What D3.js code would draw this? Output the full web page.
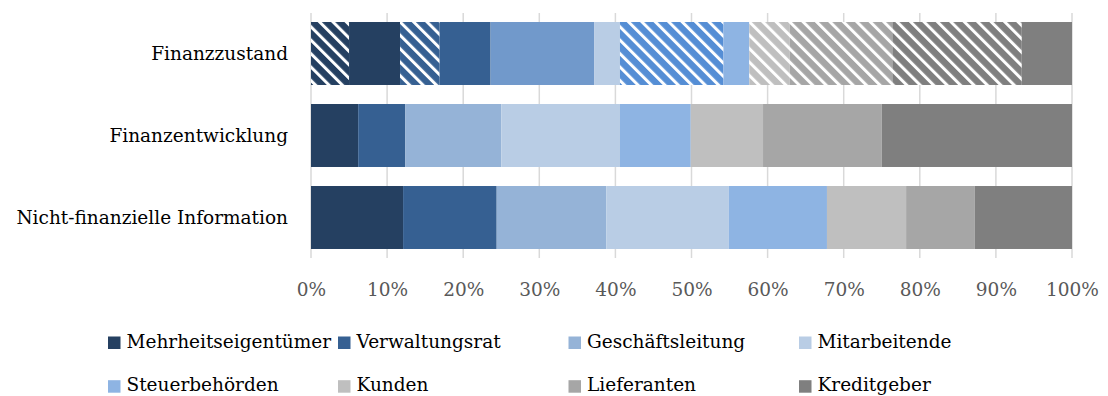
<!DOCTYPE html>
<html>
<head>
<meta charset="utf-8">
<script src="https://cdn.jsdelivr.net/npm/d3@7"></script>
<style>
  html, body { margin: 0; padding: 0; background: #fff; }
  svg { display: block; }
  text { font-family: 'Palatino Linotype', 'Book Antiqua', Palatino, 'DejaVu Serif', serif; }
</style>
</head>
<body>
<svg id="chart" width="1108" height="396"></svg>
<script>
// Kategorien (Zeilen) und Anspruchsgruppen (Reihen)
const categories = ["Finanzzustand", "Finanzentwicklung", "Nicht-finanzielle Information"];
const groups = ["Mehrheitseigentümer", "Verwaltungsrat", "Geschäftsleitung", "Mitarbeitende",
                "Steuerbehörden", "Kunden", "Lieferanten", "Kreditgeber"];

// Anteile in Prozent
const finanzzustandSchraffiert = [5.0, 5.2, 0, 0, 13.6, 5.3, 13.5, 17.0];
const finanzzustandVoll        = [6.7, 6.7, 13.6, 3.4, 3.4, 0, 0, 6.6];
const finanzentwicklung        = [6.2, 6.2, 12.6, 15.6, 9.3, 9.5, 15.6, 25.0];
const nichtFinanziell          = [12.1, 12.3, 14.4, 16.1, 12.9, 10.4, 9.0, 12.8];

const xTicks = [0, 10, 20, 30, 40, 50, 60, 70, 80, 90, 100];

// Farben
const colors      = ["#254061", "#366092", "#95b3d7", "#b9cde5", "#8eb4e3", "#bfbfbf", "#a6a6a6", "#7f7f7f"];
const hatchColors = ["#254061", "#366092", "#95b3d7", "#b9cde5", "#558ed5", "#bfbfbf", "#a6a6a6", "#7f7f7f"];
const zustandColors = ["#254061", "#366092", "#7199cb", "#b9cde5", "#8eb4e3", "#bfbfbf", "#a6a6a6", "#7f7f7f"];

const FONT = "'Palatino Linotype', 'Book Antiqua', Palatino, 'DejaVu Serif', serif";
const FS = 18.5;

const svg = d3.select("#chart");

const x = d3.scaleLinear().domain([0, 100]).range([311, 1072]);
const y = d3.scaleBand().domain(categories).range([12.5, 258.5])
  .paddingInner(0.232).paddingOuter(0.116);

// Schraffurmuster
const defs = svg.append("defs");
hatchColors.forEach((c, i) => {
  const p = defs.append("pattern")
    .attr("id", "hatch" + i)
    .attr("patternUnits", "userSpaceOnUse")
    .attr("width", 9.5).attr("height", 9.5)
    .attr("patternTransform", "rotate(-45)");
  p.append("rect").attr("width", 9.5).attr("height", 9.5).attr("fill", c);
  p.append("rect").attr("width", 3).attr("height", 9.5).attr("fill", "#fff");
});

// Gitterlinien
svg.append("g").selectAll("line").data(xTicks).join("line")
  .attr("x1", d => x(d)).attr("x2", d => x(d))
  .attr("y1", 13).attr("y2", 258)
  .attr("stroke", "#d9d9d9").attr("stroke-width", 1.5);

// Segmente aufbauen
function stackRow(cat, parts) {
  let acc = 0;
  return parts.filter(p => p.v > 0).map(p => {
    const s = { cat, x0: acc, x1: acc + p.v, fill: p.fill };
    acc += p.v;
    return s;
  });
}

const zustandParts = [];
groups.forEach((g, i) => {
  zustandParts.push({ v: finanzzustandSchraffiert[i], fill: "url(#hatch" + i + ")" });
  zustandParts.push({ v: finanzzustandVoll[i], fill: zustandColors[i] });
});

const segments = [].concat(
  stackRow(categories[0], zustandParts),
  stackRow(categories[1], finanzentwicklung.map((v, i) => ({ v, fill: colors[i] }))),
  stackRow(categories[2], nichtFinanziell.map((v, i) => ({ v, fill: colors[i] })))
);

svg.append("g").selectAll("rect").data(segments).join("rect")
  .attr("x", d => x(d.x0))
  .attr("width", d => x(d.x1) - x(d.x0))
  .attr("y", d => y(d.cat))
  .attr("height", y.bandwidth())
  .attr("fill", d => d.fill);

// Kategorienbeschriftung
svg.append("g").selectAll("text").data(categories).join("text")
  .attr("x", 288)
  .attr("y", d => y(d) + y.bandwidth() / 2 + 6.5)
  .attr("text-anchor", "end")
  .attr("font-size", FS)
  .attr("fill", "#000")
  .text(d => d);

// x-Achse
const xAxis = d3.axisBottom(x).tickValues(xTicks).tickFormat(d => d + "%").tickSize(0).tickPadding(0);
const ax = svg.append("g").attr("transform", "translate(0,280)").call(xAxis);
ax.select(".domain").remove();
ax.selectAll("text")
  .attr("dy", null).attr("y", 15.7)
  .attr("font-size", FS)
  .attr("fill", "#595959")
  .style("font-family", FONT);

// Legende
const legendCols = [108, 338, 568.5, 799];
const legendRows = [336.5, 380.2];
const legend = svg.append("g").selectAll("g").data(groups).join("g")
  .attr("transform", (d, i) => `translate(${legendCols[i % 4]},${legendRows[Math.floor(i / 4)]})`);
legend.append("rect").attr("width", 12.5).attr("height", 12.5).attr("fill", (d, i) => colors[i]);
legend.append("text").attr("x", 18.5).attr("y", 11)
  .attr("font-size", FS).attr("fill", "#000").text(d => d);
</script>
</body>
</html>
